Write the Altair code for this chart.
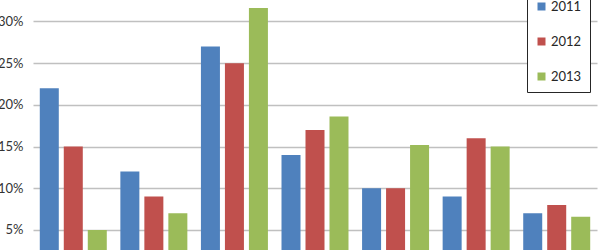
import altair as alt
import pandas as pd

categories = ["Category 1", "Category 2", "Category 3", "Category 4",
              "Category 5", "Category 6", "Category 7"]
years = ["2011", "2012", "2013"]
values_2011 = [0.22, 0.12, 0.27, 0.14, 0.10, 0.09, 0.07]
values_2012 = [0.15, 0.09, 0.25, 0.17, 0.10, 0.16, 0.08]
values_2013 = [0.05, 0.07, 0.316, 0.186, 0.152, 0.15, 0.066]
colors = ["#4F81BD", "#C0504D", "#9BBB59"]
tick_values = [0.05, 0.10, 0.15, 0.20, 0.25, 0.30]

rows = []
for yr, vals in zip(years, [values_2011, values_2012, values_2013]):
    for c, v in zip(categories, vals):
        rows.append({"category": c, "year": yr, "value": v})
df = pd.DataFrame(rows)

chart = alt.Chart(df).mark_bar(clip=True).encode(
    x=alt.X("category:N", sort=categories, axis=None,
            scale=alt.Scale(paddingInner=0, paddingOuter=0)),
    xOffset=alt.XOffset("year:N", sort=years,
                        scale=alt.Scale(paddingInner=0.208, paddingOuter=0.283)),
    y=alt.Y("value:Q",
            scale=alt.Scale(domain=[0.026, 0.3257], nice=False, zero=False),
            axis=alt.Axis(values=tick_values, format=".0%", title=None,
                          domain=False, ticks=False, labelPadding=10,
                          labelFont="Lato", labelFontSize=13,
                          labelColor="#333333", gridColor="#c0c0c0",
                          gridWidth=1.5)),
    color=alt.Color("year:N", sort=years,
                    scale=alt.Scale(domain=years, range=colors),
                    legend=alt.Legend(title=None, orient="none",
                                      legendX=494, legendY=-8,
                                      symbolType="square", symbolSize=64,
                                      symbolStrokeWidth=0,
                                      labelFont="Lato", labelFontSize=13,
                                      labelColor="#262626", labelOffset=3,
                                      rowPadding=21, padding=8,
                                      strokeColor="#262626",
                                      fillColor="white")),
).properties(
    width=564, height=250,
    autosize=alt.AutoSizeParams(type="none"),
    padding={"left": 33, "top": 0, "right": 3, "bottom": 0},
).configure_view(stroke=None)

chart.save("out.html", embed_options={"renderer": "svg", "actions": False})
